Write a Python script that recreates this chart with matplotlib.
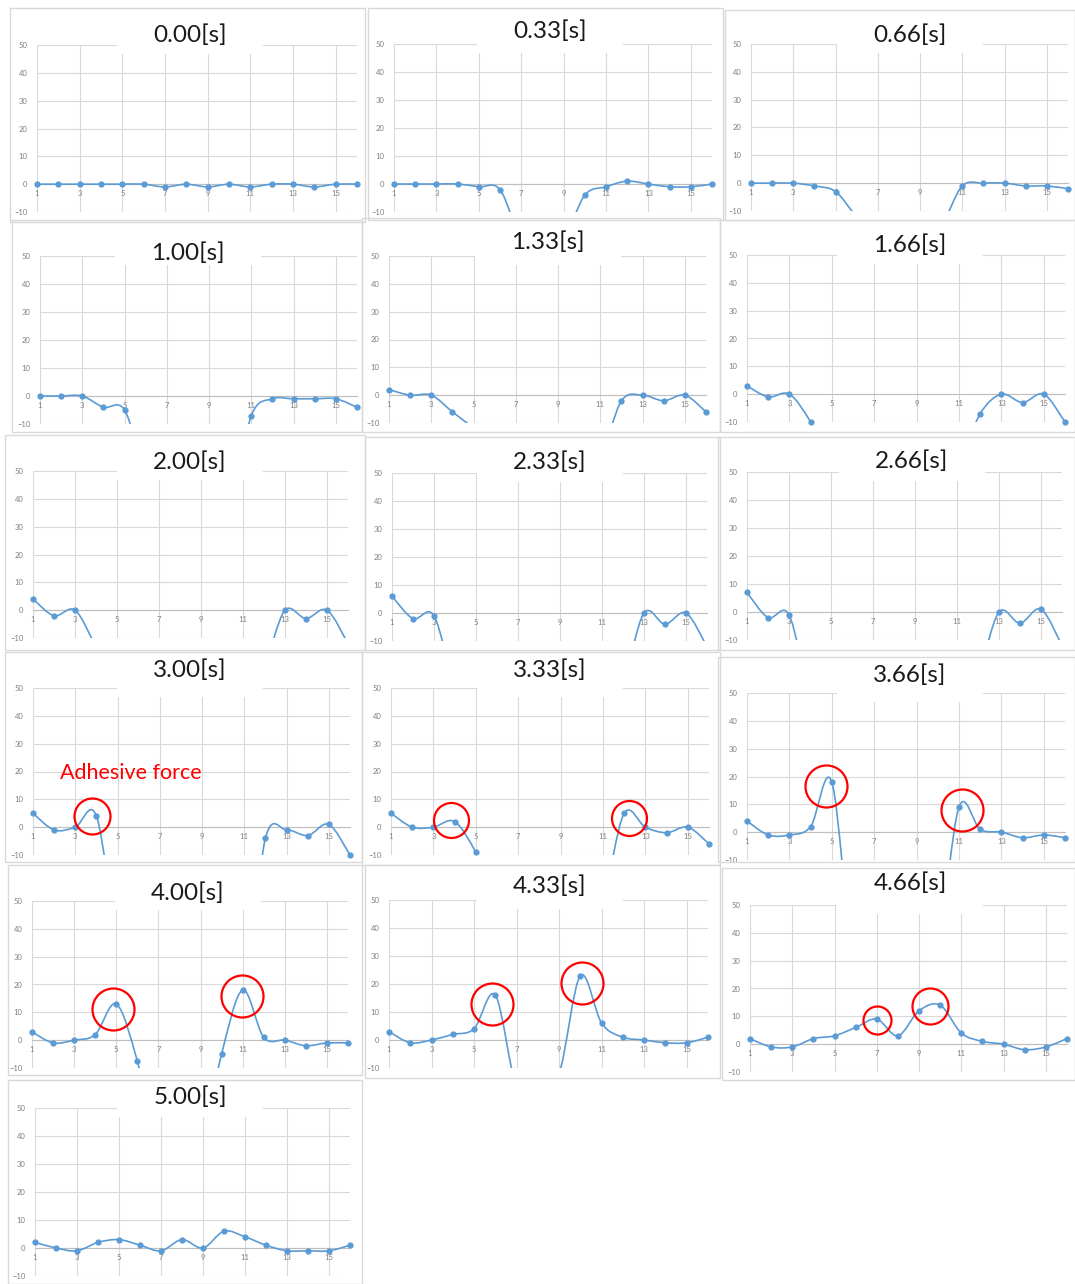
import matplotlib
matplotlib.use("Agg")
import matplotlib.pyplot as plt
from matplotlib.path import Path
from matplotlib.patches import PathPatch, Rectangle

plt.rcParams['font.family'] = ['Lato', 'DejaVu Sans']

W, H = 1075, 1284
BLUE = '#5b9bd5'

# sensor index along the x axis
sensors = [1, 2, 3, 4, 5, 6, 7, 8, 9, 10, 11, 12, 13, 14, 15, 16]

frame_labels = ['0.00[s]', '0.33[s]', '0.66[s]', '1.00[s]', '1.33[s]', '1.66[s]',
                '2.00[s]', '2.33[s]', '2.66[s]', '3.00[s]', '3.33[s]', '3.66[s]',
                '4.00[s]', '4.33[s]', '4.66[s]', '5.00[s]']

# values below -10 run off the chart, those are estimates
f000 = [0, 0, 0, 0, 0, 0, -1, 0, -1, 0, -1, 0, 0, -1, 0, 0]
f033 = [0, 0, 0, 0, -1, -2, -20, -25, -20, -4, -1, 1, 0, -1, -1, 0]
f066 = [0, 0, 0, -1, -3, -12, -18, -20, -18, -15, -1, 0, 0, -1, -1, -2]
f100 = [0, 0, 0, -4, -5, -28, -40, -45, -45, -40, -7, -1, -1, -1, -1, -4]
f133 = [2, 0, 0, -6, -12, -20, -25, -25, -25, -22, -22, -2, 0, -2, 0, -6]
f166 = [3, -1, 0, -10, -25, -30, -30, -30, -30, -30, -25, -7, 0, -3, 0, -10]
f200 = [4, -2, 0, -13, -25, -30, -30, -30, -30, -25, -19, -19, 0, -3, 0, -12]
f233 = [6, -2, -1, -27, -40, -50, -55, -55, -55, -45, -35, -25, 0, -4, 0, -12]
f266 = [7, -2, -1, -30, -40, -45, -45, -45, -45, -40, -30, -22, 0, -4, 1, -12]
f300 = [5, -1, 0, 4, -40, -50, -55, -60, -60, -60, -60, -4, -1, -3, 1, -10]
f333 = [5, 0, 0, 2, -9, -25, -30, -30, -30, -28, -25, 5, 0, -2, 0, -6]
f366 = [4, -1, -1, 2, 18, -45, -50, -50, -45, -41, 9, 1, 0, -2, -1, -2]
f400 = [3, -1, 0, 2, 13, -7.5, -40, -45, -40, -5, 18, 1, 0, -2, -1, -1]
f433 = [3, -1, 0, 2, 4, 16, -17, -20, -12, 23, 6, 1, 0, -1, -1, 1]
f466 = [2, -1, -1, 2, 3, 6, 9, 3, 12, 14, 4, 1, 0, -2, -1, 2]
f500 = [2, 0, -1, 2, 3, 1, -1, 3, 0, 6, 4, 1, -1, -1, -1, 1]

frames = [f000, f033, f066, f100, f133, f166, f200, f233, f266,
          f300, f333, f366, f400, f433, f466, f500]

# red circles (x, y, diameter in px), by frame index
circles = {
    9: [(3.79, 4.0, 36)],
    10: [(3.83, 2.6, 35), (12.23, 3.3, 35)],
    11: [(4.73, 16.5, 42), (11.14, 8.0, 42)],
    12: [(4.84, 11.2, 42), (10.97, 15.9, 42)],
    13: [(5.84, 13.0, 42), (10.07, 20.2, 42)],
    14: [(7.01, 8.7, 28), (9.52, 13.7, 36)],
}

# pixel layout: box (l, t, r, b), plot (x at 1, x at 16, y at 50, y at -10), title centre
layout = [
    ((10, 8, 365, 222), (37, 357, 45, 212), (190, 35)),
    ((368, 8, 723, 220), (394, 712, 44, 212), (550, 31)),
    ((725, 10, 1075, 220), (751, 1068, 44, 211), (910, 35)),
    ((12, 220, 362, 432), (40, 357, 256, 424), (188, 253)),
    ((362, 218, 720, 432), (389, 706, 256, 423), (548, 242)),
    ((720, 220, 1075, 432), (747, 1065, 255, 422), (910, 245)),
    ((5, 435, 365, 650), (33, 348, 471, 638), (190, 462)),
    ((365, 437, 720, 650), (392, 707, 473, 641), (550, 462)),
    ((718, 437, 1075, 650), (747, 1062, 472, 640), (912, 461)),
    ((5, 652, 362, 862), (33, 350, 688, 855), (190, 670)),
    ((362, 652, 720, 865), (391, 709, 688, 855), (550, 670)),
    ((718, 657, 1075, 862), (747, 1065, 693, 860), (910, 675)),
    ((8, 865, 362, 1075), (32, 348, 901, 1068), (188, 893)),
    ((365, 865, 720, 1078), (389, 708, 900, 1068), (550, 886)),
    ((722, 868, 1075, 1080), (750, 1067, 905, 1072), (910, 883)),
    ((8, 1080, 362, 1284), (35, 350, 1108, 1276), (190, 1097)),
]


def smooth_path(xs, ys):
    # excel style smoothed line: bezier segments, catmull-rom control points
    pts = list(zip(xs, ys))
    n = len(pts)
    verts = [pts[0]]
    codes = [Path.MOVETO]
    for i in range(n - 1):
        p0 = pts[max(i - 1, 0)]
        p1 = pts[i]
        p2 = pts[i + 1]
        p3 = pts[min(i + 2, n - 1)]
        c1 = (p1[0] + (p2[0] - p0[0]) / 6, p1[1] + (p2[1] - p0[1]) / 6)
        c2 = (p2[0] - (p3[0] - p1[0]) / 6, p2[1] - (p3[1] - p1[1]) / 6)
        verts += [c1, c2, p2]
        codes += [Path.CURVE4] * 3
    return Path(verts, codes)


def main():
    fig = plt.figure(figsize=(W / 100, H / 100), dpi=100)
    fig.patch.set_facecolor('white')

    for k, (label, vals) in enumerate(zip(frame_labels, frames)):
        (bl, bt, br, bb), (px1, px16, py50, pym10), (tx, ty) = layout[k]

        fig.add_artist(Rectangle((bl / W, 1 - bb / H), (br - bl) / W, (bb - bt) / H,
                                 transform=fig.transFigure, fill=False,
                                 ec='#d9d9d9', lw=1, zorder=0.5))

        ax = fig.add_axes([px1 / W, 1 - pym10 / H, (px16 - px1) / W, (pym10 - py50) / H])
        ax.set_xlim(1, 16)
        ax.set_ylim(-10, 50)
        ax.set_xticks(range(1, 16, 2))
        ax.set_yticks(range(-10, 51, 10))
        ax.grid(True, color='#d9d9d9', lw=0.8)
        ax.set_axisbelow(True)
        for s in ['top', 'right', 'left']:
            ax.spines[s].set_visible(False)
        ax.spines['bottom'].set_position(('data', 0))
        ax.spines['bottom'].set_color('#bfbfbf')
        ax.spines['bottom'].set_linewidth(0.8)
        ax.tick_params(length=0, labelsize=5.5, labelcolor='#7f7f7f')
        ax.tick_params(axis='x', pad=4)
        ax.tick_params(axis='y', pad=7)
        ax.patch.set_alpha(0)

        ax.add_patch(PathPatch(smooth_path(sensors, vals), fill=False,
                               ec=BLUE, lw=1.2, zorder=3))
        vx = [x for x, y in zip(sensors, vals) if y >= -10]
        vy = [y for y in vals if y >= -10]
        ax.plot(vx, vy, 'o', ms=3.5, color=BLUE, clip_on=False, zorder=4)

        for cx, cy, d in circles.get(k, []):
            ax.plot(cx, cy, 'o', ms=d * 0.72, mfc='none', mec='red', mew=1.6,
                    clip_on=False, zorder=5)
        if k == 9:
            ax.text(2.28, 19.5, 'Adhesive force', color='red', fontsize=15.5,
                    va='center', ha='left', zorder=5)

        # white title box that hides the top of the grid
        top = max(ty - 14, bt + 2)
        fig.add_artist(Rectangle(((tx - 73) / W, 1 - (py50 + 9) / H), 146 / W,
                                 (py50 + 9 - top) / H, transform=fig.transFigure,
                                 fc='white', ec='none', zorder=1))
        fig.text(tx / W, 1 - ty / H, label, ha='center', va='center',
                 fontsize=17.5, color='#1a1a1a', zorder=2)

    fig.savefig('out.png', dpi=100, facecolor='white')


if __name__ == '__main__':
    main()
